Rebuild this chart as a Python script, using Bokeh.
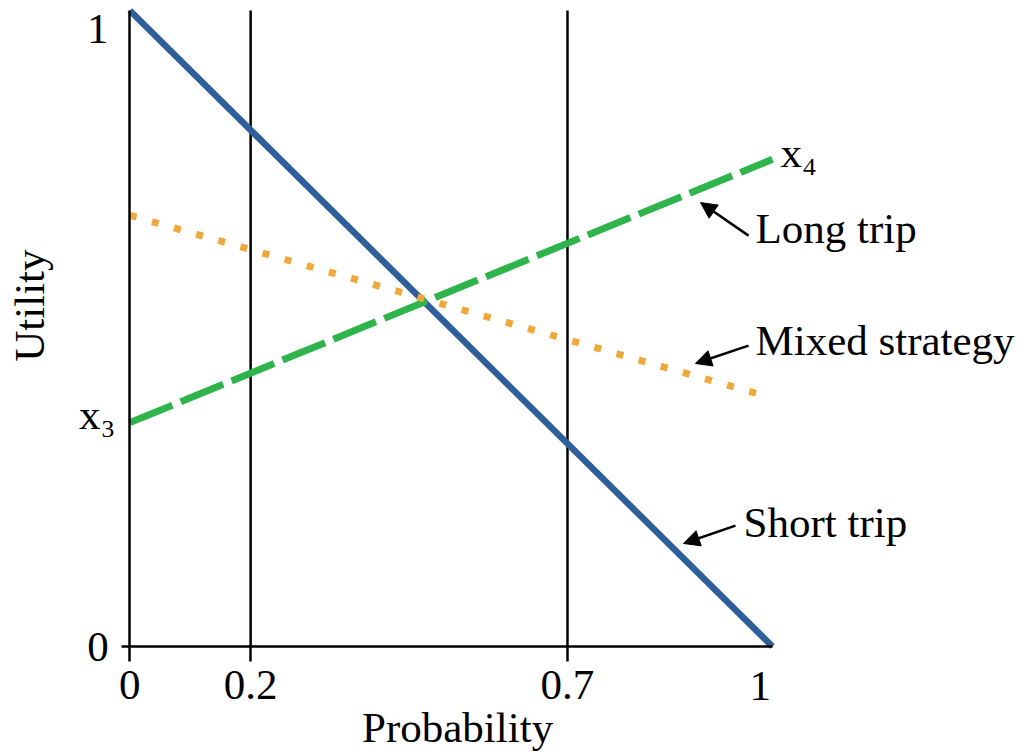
from bokeh.plotting import figure
from bokeh.models import Range1d, FixedTicker, Label, Arrow, NormalHead
from bokeh.embed import file_html
from bokeh.resources import INLINE

# ---- data ----
prob_tick_pos = [0.0, 0.188, 0.681]          # where the marked probabilities are drawn
prob_tick_labels = ["0", "0.2", "0.7"]
util_tick_pos = [0.0]
util_tick_labels = ["0"]

short_x = [0.0, 1.0]
short_y = [1.0, 0.0]
long_x = [0.0, 1.0]
long_y = [0.352, 0.766]
mixed_x = [0.0, 0.975]
mixed_y = [0.678, 0.398]

FONT = "Liberation Serif"
FS = "43px"

W, H = 1035, 754
X0PX, X1PX = 129.3, 772.0      # canvas px of x=0 and x=1
Y0PX, Y1PX = 646.0, 10.0       # canvas px of y=0 and y=1
sx = (X1PX - X0PX)
sy = (Y0PX - Y1PX)
x_range = Range1d(-X0PX / sx, (W - X0PX) / sx)
y_range = Range1d(-(H - Y0PX) / sy, 1 + Y1PX / sy)

p = figure(width=W, height=H, output_backend="svg", toolbar_location=None,
           x_range=x_range, y_range=y_range,
           min_border=0, min_border_left=0, min_border_right=0,
           min_border_top=0, min_border_bottom=0)
p.outline_line_color = None
p.grid.visible = False
p.background_fill_color = "white"
p.border_fill_color = "white"

# axes crossing at the origin
p.xaxis.fixed_location = 0
p.xaxis.bounds = (0, 1)
p.xaxis.ticker = FixedTicker(ticks=prob_tick_pos)
p.xaxis.major_label_overrides = {v: s for v, s in zip(prob_tick_pos, prob_tick_labels)}
p.xaxis.major_tick_out = 15
p.xaxis.major_tick_in = 0
p.xaxis.major_label_standoff = 9

p.yaxis.fixed_location = 0
p.yaxis.bounds = (0, 1)
p.yaxis.ticker = FixedTicker(ticks=util_tick_pos)
p.yaxis.major_label_overrides = {v: s for v, s in zip(util_tick_pos, util_tick_labels)}
p.yaxis.major_tick_out = 8
p.yaxis.major_tick_in = 0
p.yaxis.major_label_standoff = 13

for ax in (p.xaxis, p.yaxis):
    ax.axis_line_width = 2.5
    ax.axis_line_color = "black"
    ax.major_tick_line_width = 2.5
    ax.major_tick_line_color = "black"
    ax.minor_tick_line_color = None
    ax.major_label_text_font = FONT
    ax.major_label_text_font_size = FS
    ax.major_label_text_color = "black"

# vertical reference lines
p.segment(x0=prob_tick_pos[1:], y0=[0, 0], x1=prob_tick_pos[1:], y1=[1, 1],
          line_color="black", line_width=2.5)

# series
p.line(short_x, short_y, line_color="#2f5f9b", line_width=6.5)
p.line(long_x, long_y, line_color="#2eb44b", line_width=7, line_dash="46 9")
p.line(mixed_x, mixed_y, line_color="#f0a83c", line_width=7, line_dash="7 16")

DY = 15 / sy   # baseline correction for Label placement

def lab(x, y, text, align="left", angle=0):
    p.add_layout(Label(x=x, y=y + DY, text=text, text_font=FONT, text_font_size=FS,
                       text_align=align, text_baseline="alphabetic", text_color="black",
                       angle=angle))

# extra tick labels and axis titles
lab(0.981, -0.085, "1", align="center")
lab(-0.0331, 0.948, "1", align="right")
lab(0.51, -0.151, "Probability", align="center")
p.add_layout(Label(x=-0.156, y=0.536, text="Utility", text_font=FONT, text_font_size=FS,
                   text_align="center", text_baseline="alphabetic", text_color="black",
                   angle=1.5708))

# endpoint labels
lab(-0.0222, 0.341, "x\u2083", align="right")
lab(1.0125, 0.753, "x\u2084", align="left")

# annotations
lab(0.9735, 0.634, "Long trip")
lab(0.9735, 0.4575, "Mixed strategy")
lab(0.955, 0.171, "Short trip")

arrows = [((0.9627, 0.646), (0.888, 0.698)),
          ((0.9627, 0.473), (0.880, 0.445)),
          ((0.9424, 0.190), (0.8615, 0.162))]
for (xs, ys), (xe, ye) in arrows:
    p.add_layout(Arrow(x_start=xs, y_start=ys, x_end=xe, y_end=ye, line_width=2.5,
                       line_color="black",
                       end=NormalHead(size=16, fill_color="black", line_color="black",
                                      line_width=1)))

open("out.html", "w").write(file_html(p, INLINE))
